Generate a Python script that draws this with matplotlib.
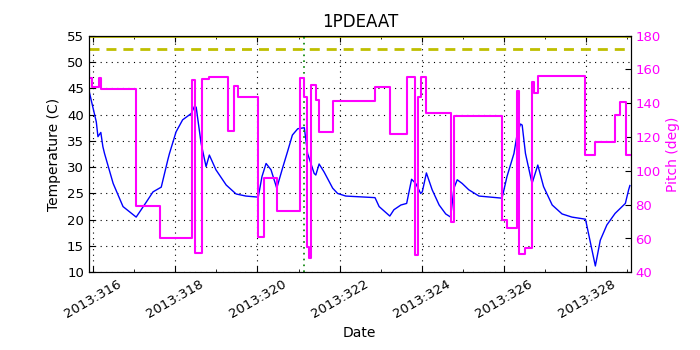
import numpy as np
import matplotlib
matplotlib.use("Agg")
import matplotlib.pyplot as plt
from matplotlib.ticker import MultipleLocator

plt.rcParams.update({
    "font.family": "DejaVu Sans",
    "xtick.direction": "in",
    "ytick.direction": "in",
})

# Temperature (1PDEAAT), day of year 2013
temp_day = [315.88, 316.08, 316.12, 316.19, 316.24, 316.28, 316.49, 316.73, 317.05, 317.30,
            317.46, 317.66, 317.82, 317.86, 318.02, 318.18, 318.39, 318.47, 318.51, 318.63,
            318.75, 318.83, 318.99, 319.24, 319.48, 319.72, 320.02, 320.11, 320.21, 320.33,
            320.47, 320.61, 320.73, 320.85, 320.98, 321.14, 321.22, 321.38, 321.42, 321.50,
            321.62, 321.83, 321.95, 322.15, 322.86, 322.96, 323.22, 323.32, 323.49, 323.63,
            323.75, 323.85, 323.97, 324.01, 324.11, 324.25, 324.42, 324.58, 324.70, 324.78,
            324.86, 324.98, 325.14, 325.39, 325.95, 326.07, 326.24, 326.32, 326.40, 326.44,
            326.52, 326.68, 326.82, 326.96, 327.17, 327.41, 327.65, 327.98, 328.22, 328.34,
            328.50, 328.70, 328.95, 329.03, 329.06]
temp_val = [45.3, 38.6, 35.8, 36.6, 33.9, 32.6, 26.9, 22.5, 20.5, 23.4,
            25.3, 26.2, 31.4, 32.6, 36.7, 39.0, 40.2, 41.6, 41.4, 34.5,
            30.1, 32.3, 29.5, 26.6, 24.9, 24.5, 24.3, 28.2, 30.7, 29.5,
            26.0, 29.8, 32.9, 36.1, 37.3, 37.5, 32.6, 28.8, 28.5, 30.6,
            29.1, 26.0, 25.0, 24.5, 24.2, 22.5, 20.7, 21.9, 22.8, 23.1,
            27.7, 26.9, 25.0, 25.3, 28.9, 25.7, 22.8, 21.1, 20.5, 26.0,
            27.6, 26.9, 25.7, 24.5, 24.1, 28.2, 32.6, 36.4, 38.2, 38.0,
            32.6, 26.9, 30.4, 26.3, 22.8, 21.1, 20.5, 20.1, 11.2, 16.1,
            19.0, 21.2, 23.1, 25.7, 26.5]

# Pitch steps (start day, value)
pitch_day = [315.88, 315.98, 316.14, 316.19, 317.05, 317.64, 318.40, 318.48, 318.66, 318.82,
             319.28, 319.42, 319.52, 320.02, 320.15, 320.47, 321.03, 321.14, 321.20, 321.25,
             321.30, 321.42, 321.49, 321.84, 322.86, 323.22, 323.63, 323.83, 323.91, 323.97,
             324.09, 324.70, 324.79, 325.95, 326.07, 326.32, 326.36, 326.52, 326.67, 326.73,
             326.82, 327.98, 328.22, 328.69, 328.83, 328.97, 329.08]
pitch_val = [154.8, 149.5, 154.8, 148.3, 79.4, 60.1, 153.8, 51.2, 154.2, 155.4,
             123.6, 150.4, 143.5, 61.1, 95.6, 76.4, 155.2, 143.9, 55.0, 48.3,
             150.8, 142.0, 123.2, 141.4, 149.8, 121.7, 155.4, 50.2, 143.9, 155.8,
             134.1, 69.6, 132.5, 70.9, 66.0, 147.3, 50.6, 54.6, 152.8, 146.3,
             156.3, 109.4, 116.9, 133.1, 140.6, 109.4, 109.4]

planning_limit = 52.5
caution_limit = 55.0
marker_day = 321.14

tick_days = list(range(316, 329, 2))
tick_labels = ["2013:%d" % d for d in tick_days]

fig = plt.figure(figsize=(7, 3.5), dpi=100)
ax1 = fig.add_axes([0.127, 0.222, 0.774, 0.676])

ax1.plot(temp_day, temp_val, color="b", lw=1.0)
ax1.axhline(caution_limit, color="y", lw=2)
ax1.axhline(planning_limit, color="y", lw=2, ls="--", dashes=(3.6, 2.5))
ax1.axvline(marker_day, color="g", ls=(0, (1, 2.5)), lw=1.2)

ax1.set_xlim(315.9, 329.08)
ax1.set_ylim(10, 55)
ax1.yaxis.set_major_locator(MultipleLocator(5))
ax1.set_xticks(tick_days)
ax1.set_xticklabels(tick_labels, rotation=30, ha="center", fontsize=9.5)
ax1.xaxis.set_minor_locator(MultipleLocator(1))
ax1.tick_params(axis="y", labelsize=9.5)
ax1.tick_params(which="major", length=4, top=True)
ax1.tick_params(which="minor", length=2, top=True)
ax1.grid(True, which="major", color="black", ls=(0, (1, 4)), lw=0.8)
ax1.set_xlabel("Date", fontsize=10)
ax1.set_ylabel("Temperature (C)", fontsize=10)
ax1.set_title("1PDEAAT", fontsize=12)

ax2 = ax1.twinx()
ax2.plot(pitch_day, pitch_val, color="magenta", lw=1.5, drawstyle="steps-post")
ax2.set_ylim(40, 180)
ax2.yaxis.set_major_locator(MultipleLocator(20))
ax2.tick_params(axis="y", labelcolor="magenta", labelsize=9.5, length=4, direction="in")
ax2.set_ylabel("Pitch (deg)", color="magenta", fontsize=10)
ax2.set_xlim(315.9, 329.08)

fig.savefig("out.png", dpi=100)
